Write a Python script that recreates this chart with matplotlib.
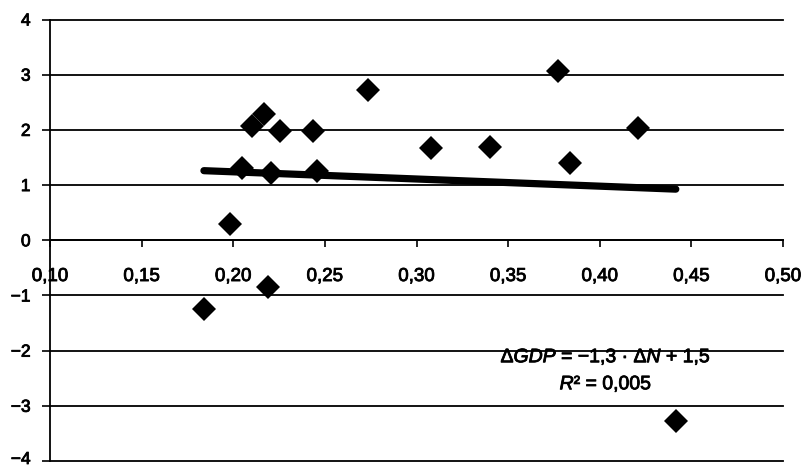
import matplotlib
matplotlib.use("Agg")
import matplotlib.pyplot as plt
import matplotlib.patheffects as pe
import matplotlib.transforms as mt
import numpy as np

# ---- data ----
dN = [0.184, 0.198, 0.205, 0.2104, 0.2169, 0.219, 0.2205, 0.2257,
      0.2437, 0.2459, 0.2738, 0.308, 0.340, 0.377, 0.384, 0.421, 0.4415]
dGDP = [-1.24, 0.29, 1.31, 2.07, 2.29, -0.85, 1.22, 1.98,
        1.98, 1.25, 2.73, 1.67, 1.69, 3.07, 1.40, 2.04, -3.27]
trend_slope = -1.3
trend_intercept = 1.5
x_ticks = [0.10, 0.15, 0.20, 0.25, 0.30, 0.35, 0.40, 0.45, 0.50]
x_tick_labels = ["0,10", "0,15", "0,20", "0,25", "0,30", "0,35", "0,40", "0,45", "0,50"]
y_ticks = [-4, -3, -2, -1, 0, 1, 2, 3, 4]
y_tick_labels = ["\u22124", "\u22123", "\u22122", "\u22121", "0", "1", "2", "3", "4"]
eq_text = r"$\Delta\mathit{GDP}$" + " = \u22121,3 \u00b7 " + r"$\Delta\mathit{N}$" + " + 1,5"
r2_text = r"$\mathit{R}$" + "\u00b2 = 0,005"

plt.rcParams['font.family'] = ['Liberation Sans', 'DejaVu Sans']
plt.rcParams['mathtext.fontset'] = 'custom'
plt.rcParams['mathtext.rm'] = 'Liberation Sans'
plt.rcParams['mathtext.it'] = 'Liberation Sans:italic'
plt.rcParams['mathtext.bf'] = 'Liberation Sans:bold'

heavy = [pe.withStroke(linewidth=0.6, foreground='black')]

fig = plt.figure(figsize=(8.06, 4.67), dpi=100)
ax = fig.add_axes([50/806, 1 - 461/467, (783 - 50)/806, (461 - 19.5)/467])

ax.set_xlim(0.10, 0.50)
ax.set_ylim(-4, 4)

# trend line
xs = np.array([min(dN), max(dN)])
ax.plot(xs, trend_slope * xs + trend_intercept, color='black', lw=5.2,
        solid_capstyle='round', zorder=3)

# points
ax.plot(dN, dGDP, linestyle='none', marker='D', ms=12.5, color='black',
        markeredgewidth=0, zorder=4)

# axes styling
for s in ['top', 'right']:
    ax.spines[s].set_visible(False)
ax.spines['bottom'].set_position(('data', 0))
ax.spines['bottom'].set_linewidth(1.3)
ax.spines['left'].set_linewidth(1.3)

ax.set_xticks(x_ticks)
ax.set_xticklabels(x_tick_labels, fontsize=13.5)
ax.set_yticks(y_ticks)
ax.set_yticklabels(y_tick_labels, fontsize=12.5)
ax.tick_params(axis='x', direction='out', length=5, width=1.2, pad=15)
ax.tick_params(axis='y', direction='out', length=6, width=1.2, pad=8)
for lab in ax.get_xticklabels() + ax.get_yticklabels():
    lab.set_path_effects(heavy)

# keep the bottom "-4" label inside the canvas
bottom_lab = ax.yaxis.get_major_ticks()[0].label1
bottom_lab.set_transform(bottom_lab.get_transform() +
                         mt.ScaledTranslation(0, 3/100, fig.dpi_scale_trans))

ax.yaxis.grid(True, color='black', lw=1.3)
ax.set_axisbelow(True)
for gl in ax.get_ygridlines():
    gl.set_clip_on(False)

ax.text(0.4034, -2.12, eq_text, fontsize=14, ha='center', va='center',
        path_effects=heavy)
ax.text(0.4034, -2.61, r2_text, fontsize=14, ha='center', va='center',
        path_effects=heavy)

fig.savefig("out.png", dpi=100)
